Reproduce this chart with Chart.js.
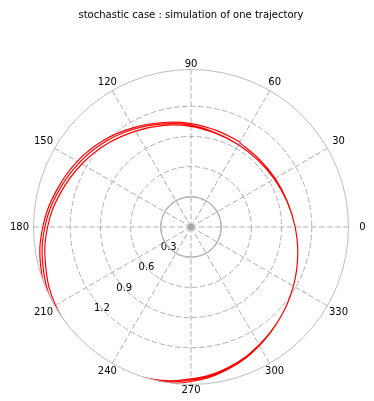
<!DOCTYPE html>
<html>
<head>
<meta charset="utf-8">
<script src="https://cdn.jsdelivr.net/npm/chart.js@4.4.1/dist/chart.umd.min.js"></script>
<style>
  body { margin: 0; background: #fff; }
  canvas { display: block; }
</style>
</head>
<body>
<canvas id="chart" width="374" height="401"></canvas>
<script>
// trajectory: angle in degrees (continuous, 3 turns) and radius
const trajTheta = [
  60, 75, 90, 105, 120, 135, 150, 165, 180, 195, 210, 225,
  240, 255, 270, 285, 300, 315, 330, 345, 360, 375, 390, 405,
  420, 435, 450, 465, 480, 495, 510, 525, 540, 555, 570, 585,
  600, 615, 630, 645, 660, 675, 690, 705, 720, 735, 750, 765,
  780, 795, 810, 825, 840, 855, 870, 885, 900, 915, 930, 945,
  960, 975, 990, 1005, 1020, 1035, 1050, 1065, 1080, 1095, 1110, 1125,
  1140
];
const trajR = [
  0.975, 0.992, 1.028, 1.075, 1.140, 1.222, 1.305, 1.386, 1.473, 1.545, 1.595, 1.620,
  1.620, 1.598, 1.535, 1.458, 1.360, 1.262, 1.175, 1.098, 1.035, 0.987, 0.955, 0.940,
  0.945, 0.967, 1.013, 1.060, 1.125, 1.202, 1.281, 1.365, 1.452, 1.522, 1.575, 1.600,
  1.600, 1.578, 1.520, 1.448, 1.355, 1.262, 1.175, 1.098, 1.035, 0.987, 0.955, 0.940,
  0.943, 0.962, 1.000, 1.045, 1.100, 1.172, 1.252, 1.338, 1.425, 1.495, 1.555, 1.580,
  1.580, 1.563, 1.510, 1.443, 1.352, 1.262, 1.175, 1.098, 1.035, 0.990, 0.965, 0.955,
  0.968
];

// gray reference circle and origin point
const ringTheta = [0, 15, 30, 45, 60, 75, 90, 105, 120, 135, 150, 165, 180,
  195, 210, 225, 240, 255, 270, 285, 300, 315, 330, 345, 360];
const ringR = [0.3, 0.3, 0.3, 0.3, 0.3, 0.3, 0.3, 0.3, 0.3, 0.3, 0.3, 0.3, 0.3,
  0.3, 0.3, 0.3, 0.3, 0.3, 0.3, 0.3, 0.3, 0.3, 0.3, 0.3, 0.3];
const originTheta = [0];
const originR = [0];

// axes
const rTicks = [0.3, 0.6, 0.9, 1.2];
const rMax = 1.565;
const thetaTicks = [0, 30, 60, 90, 120, 150, 180, 210, 240, 270, 300, 330];
const rLabelAngle = 222.5;

function toXY(thetas, radii) {
  return thetas.map((t, i) => {
    const a = t * Math.PI / 180;
    return { x: radii[i] * Math.cos(a), y: radii[i] * Math.sin(a) };
  });
}

const polarGrid = {
  id: 'polarGrid',
  beforeDatasetsDraw(chart) {
    const { ctx, scales: { x, y } } = chart;
    const cx = x.getPixelForValue(0);
    const cy = y.getPixelForValue(0);
    const k = x.getPixelForValue(1) - cx;
    const R = rMax * k;

    ctx.save();
    ctx.strokeStyle = '#b0b0b0';
    ctx.lineWidth = 1;
    ctx.setLineDash([5.5, 2.5]);
    rTicks.forEach(v => {
      ctx.beginPath();
      ctx.arc(cx, cy, v * k, 0, Math.PI * 2);
      ctx.stroke();
    });
    thetaTicks.forEach(t => {
      const a = t * Math.PI / 180;
      ctx.beginPath();
      ctx.moveTo(cx, cy);
      ctx.lineTo(cx + R * Math.cos(a), cy - R * Math.sin(a));
      ctx.stroke();
    });
    ctx.setLineDash([]);

    ctx.fillStyle = '#000';
    ctx.font = '10px "DejaVu Sans"';
    ctx.textAlign = 'center';
    ctx.textBaseline = 'middle';
    const la = rLabelAngle * Math.PI / 180;
    rTicks.forEach(v => {
      ctx.fillText(String(v), cx + v * k * Math.cos(la), cy - v * k * Math.sin(la));
    });
    thetaTicks.forEach(t => {
      const a = t * Math.PI / 180;
      const d = R + 5.5 + 8.5 * Math.abs(Math.cos(a));
      ctx.fillText(String(t), cx + d * Math.cos(a), cy - d * Math.sin(a));
    });
    ctx.restore();

    // keep the data inside the polar frame
    ctx.save();
    ctx.beginPath();
    ctx.arc(cx, cy, R, 0, Math.PI * 2);
    ctx.clip();
  },
  afterDatasetsDraw(chart) {
    const { ctx, scales: { x, y } } = chart;
    ctx.restore();
    const cx = x.getPixelForValue(0);
    const cy = y.getPixelForValue(0);
    const R = rMax * (x.getPixelForValue(1) - cx);
    ctx.save();
    ctx.strokeStyle = '#bdbdbd';
    ctx.lineWidth = 1;
    ctx.beginPath();
    ctx.arc(cx, cy, R, 0, Math.PI * 2);
    ctx.stroke();
    ctx.restore();
  }
};

Chart.defaults.font.family = '"DejaVu Sans", sans-serif';

new Chart(document.getElementById('chart'), {
  type: 'scatter',
  data: {
    datasets: [
      {
        label: 'ring',
        data: toXY(ringTheta, ringR),
        showLine: true,
        borderColor: '#b0b0b0',
        borderWidth: 1.2,
        pointRadius: 0,
        tension: 0.4
      },
      {
        label: 'origin',
        data: toXY(originTheta, originR),
        pointRadius: 3.5,
        backgroundColor: '#a8a8a8',
        borderWidth: 0
      },
      {
        label: 'trajectory',
        data: toXY(trajTheta, trajR),
        showLine: true,
        borderColor: '#ff0000',
        borderWidth: 1.2,
        pointRadius: 0,
        tension: 0.4
      }
    ]
  },
  options: {
    responsive: false,
    animation: false,
    devicePixelRatio: 1,
    layout: { padding: { left: 33.5, right: 25.5, top: 0, bottom: 16.5 } },
    scales: {
      x: { display: false, min: -rMax, max: rMax },
      y: { display: false, min: -rMax, max: rMax }
    },
    plugins: {
      legend: { display: false },
      tooltip: { enabled: false },
      title: {
        display: true,
        text: 'stochastic case : simulation of one trajectory',
        color: '#000',
        font: { size: 10, weight: 'normal' },
        padding: { top: 9, bottom: 48.5 }
      }
    }
  },
  plugins: [polarGrid]
});
</script>
</body>
</html>
